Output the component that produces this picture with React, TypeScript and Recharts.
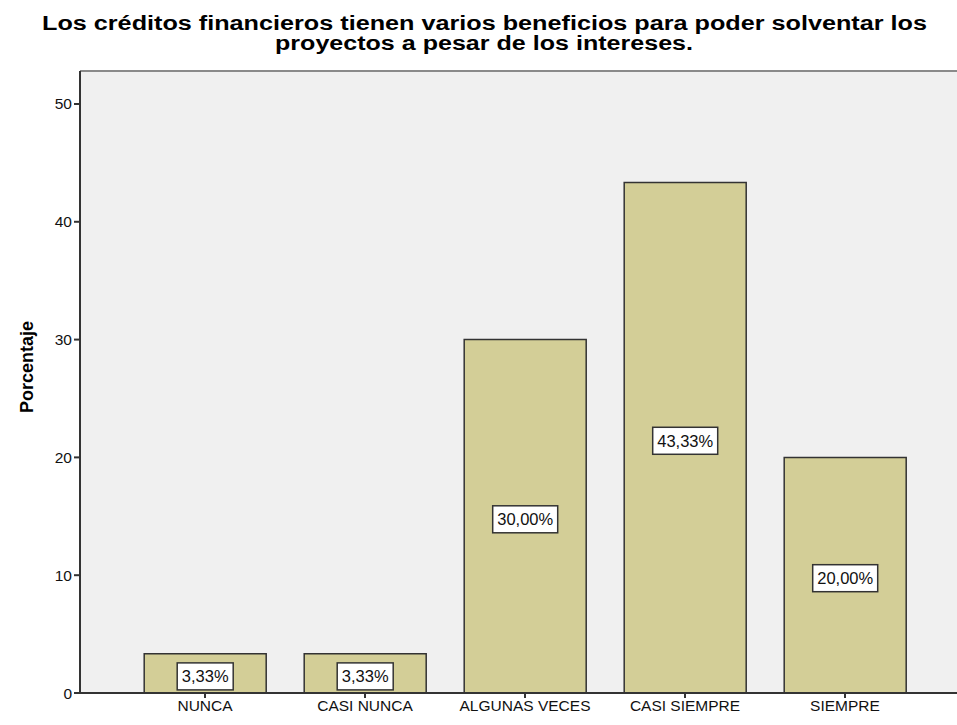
import { BarChart, Bar, XAxis, YAxis, CartesianGrid, LabelList, ReferenceLine } from 'recharts';

// ── Data ──────────────────────────────────────────────────────────────────────
const CATEGORIES = ['NUNCA', 'CASI NUNCA', 'ALGUNAS VECES', 'CASI SIEMPRE', 'SIEMPRE'];
const PERCENTS = [3.33, 3.33, 30.0, 43.33, 20.0];
const Y_TICKS = [0, 10, 20, 30, 40, 50];

const TITLE_1 = 'Los créditos financieros tienen varios beneficios para poder solventar los';
const TITLE_2 = 'proyectos a pesar de los intereses.';

const data = CATEGORIES.map((name, i) => ({ name, value: PERCENTS[i] }));

// ── Style ─────────────────────────────────────────────────────────────────────
const FONT = '"Liberation Sans", Arial, sans-serif';
const BAR_FILL = '#D3CE97';
const INK = '#333333';
const PLOT_BG = '#F0F0F0';

const Y_MAX = 52.8;

function fmt(v: number) {
  return v.toFixed(2).replace('.', ',') + '%';
}

// white boxed label in the middle of each bar
function BoxLabel(props: any) {
  const { x, y, width, height, value } = props;
  const cx = x + width / 2;
  const cy = y + height / 2 + 3;
  const w = value >= 10 ? 65 : 56;
  const h = 27;
  return (
    <g>
      <rect x={cx - w / 2} y={cy - h / 2} width={w} height={h} fill="#fff" stroke={INK} strokeWidth={1.5} />
      <text x={cx} y={cy + 6} textAnchor="middle" fontSize={16.5} fontFamily={FONT} fill="#111">
        {fmt(value)}
      </text>
    </g>
  );
}

export default function App() {
  return (
    <div style={{ position: 'absolute', left: 0, top: 0, width: 957, height: 725, overflow: 'hidden', background: '#fff' }}>
      <svg width={957} height={70} style={{ position: 'absolute', left: 0, top: 0 }}>
        <text x={42} y={30} textLength={885} lengthAdjust="spacingAndGlyphs" fontSize={20} fontWeight="bold" fontFamily={FONT} fill="#000">
          {TITLE_1}
        </text>
        <text x={275} y={50} textLength={418} lengthAdjust="spacingAndGlyphs" fontSize={20} fontWeight="bold" fontFamily={FONT} fill="#000">
          {TITLE_2}
        </text>
      </svg>
      <div style={{ position: 'absolute', left: 0, top: 0 }}>
        <BarChart
          width={970}
          height={725}
          data={data}
          margin={{ top: 71, right: 0, bottom: 0, left: 0 }}
          barCategoryGap="12%"
        >
          <CartesianGrid horizontal={false} vertical={false} fill={PLOT_BG} />
          <ReferenceLine y={Y_MAX} stroke="#8a8a8a" strokeWidth={2} />
          <XAxis
            dataKey="name"
            height={32}
            padding={{ left: 45, right: 45 }}
            axisLine={{ stroke: INK, strokeWidth: 2 }}
            tickLine={{ stroke: INK, strokeWidth: 2 }}
            tickSize={5}
            tick={{ fontSize: 15.5, fontFamily: FONT, fill: '#111' }}
            interval={0}
          />
          <YAxis
            width={80}
            domain={[0, Y_MAX]}
            ticks={Y_TICKS}
            axisLine={{ stroke: INK, strokeWidth: 2 }}
            tickLine={{ stroke: INK, strokeWidth: 2 }}
            tickSize={6}
            tick={{ fontSize: 15.5, fontFamily: FONT, fill: '#111' }}
            label={{
              value: 'Porcentaje',
              angle: -90,
              position: 'insideLeft',
              dx: 22,
              dy: -15,
              style: { fontSize: 18, fontWeight: 'bold', fontFamily: FONT, fill: '#000', textAnchor: 'middle' },
            }}
          />
          <Bar dataKey="value" fill={BAR_FILL} stroke={INK} strokeWidth={1.5} isAnimationActive={false}>
            <LabelList dataKey="value" content={BoxLabel} />
          </Bar>
        </BarChart>
      </div>
    </div>
  );
}
